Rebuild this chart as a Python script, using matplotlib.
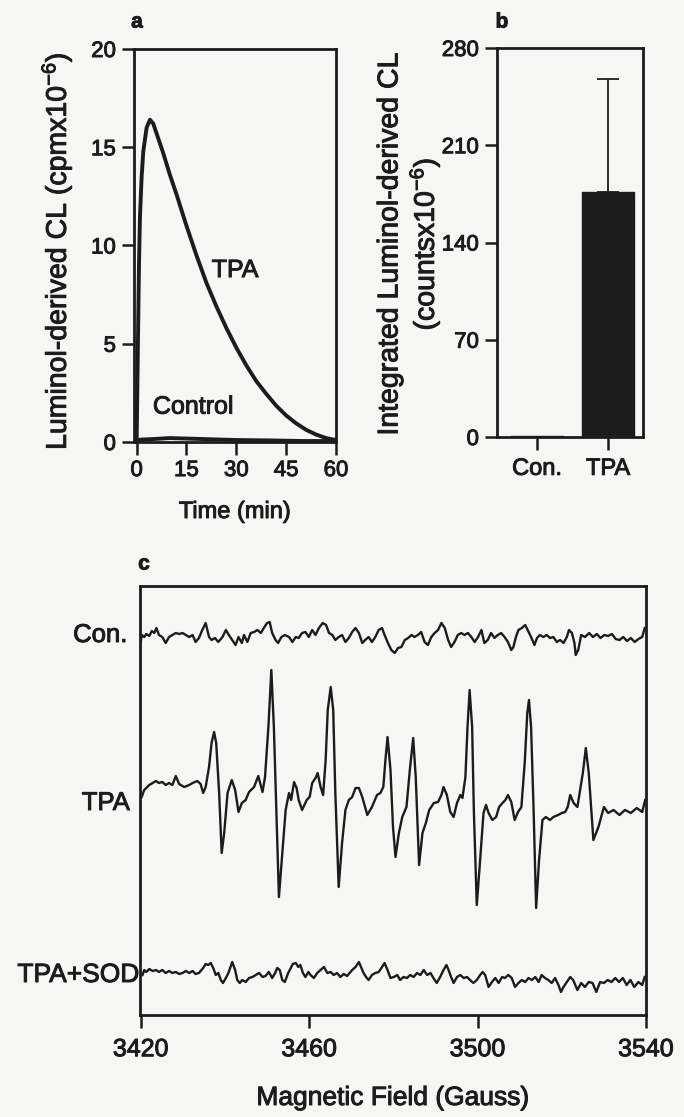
import matplotlib
matplotlib.use("Agg")
import matplotlib.pyplot as plt
import matplotlib.patheffects as pe

plt.rcParams["font.family"] = ["Liberation Sans", "DejaVu Sans"]
plt.rcParams["mathtext.default"] = "regular"

INK = "#1c1c1c"
PAPER = "#f6f6f4"
HEAVY = [pe.withStroke(linewidth=0.7, foreground=INK)]

# panel a: luminol-derived chemiluminescence (cpm x 10^-6)
time_min = [0, 0.3, 0.7, 1, 1.5, 2, 3, 4, 5, 6, 8, 10, 12, 15, 18, 21, 24,
            27, 30, 33, 36, 39, 42, 45, 48, 51, 54, 57, 60]
tpa_cl = [0, 4.0, 9.0, 11.5, 13.5, 14.8, 16.0, 16.4, 16.2, 15.7, 14.7, 13.6,
          12.6, 11.0, 9.5, 8.1, 6.9, 5.8, 4.8, 3.9, 3.1, 2.45, 1.85, 1.35,
          0.95, 0.62, 0.38, 0.2, 0.1]
control_time = [0, 1, 5, 10, 20, 30, 40, 50, 60]
control_cl = [0, 0.12, 0.15, 0.2, 0.15, 0.1, 0.08, 0.05, 0.05]

# panel b: integrated CL (counts x 10^-6)
bar_groups = ["Con.", "TPA"]
bar_means = [1, 176]
bar_errors = [0, 82]

# panel c: EPR spectra, signal in arbitrary units
con_field = [3420.0, 3420.2, 3420.8, 3421.3, 3422.0, 3422.6, 3423.2, 3423.7,
             3424.3, 3425.1, 3425.9, 3426.7, 3427.5, 3428.3, 3429.1, 3429.9,
             3430.7, 3431.5, 3432.3, 3433.0, 3433.8, 3434.6, 3435.4, 3436.2,
             3436.8, 3437.6, 3438.4, 3439.4, 3440.2, 3440.9, 3441.7, 3442.5,
             3443.2, 3444.0, 3444.5, 3445.3, 3446.1, 3446.9, 3447.7, 3448.5,
             3449.2, 3450.0, 3450.6, 3451.2, 3452.0, 3452.6, 3453.4, 3454.2,
             3455.2, 3456.0, 3456.8, 3457.5, 3458.3, 3459.1, 3459.9, 3460.7,
             3461.5, 3462.3, 3463.2, 3464.0, 3464.7, 3465.5, 3466.2, 3467.0,
             3467.8, 3468.6, 3469.4, 3470.2, 3471.0, 3471.8, 3472.6, 3473.3,
             3474.1, 3474.9, 3475.7, 3476.5, 3477.3, 3477.9, 3478.7, 3479.5,
             3480.3, 3481.1, 3481.9, 3482.7, 3483.5, 3484.3, 3485.0, 3485.8,
             3486.6, 3487.4, 3488.2, 3489.0, 3489.8, 3490.6, 3491.4, 3492.2,
             3493.0, 3493.7, 3494.5, 3495.3, 3496.1, 3496.9, 3497.7, 3498.5,
             3499.3, 3500.1, 3500.9, 3501.6, 3502.4, 3503.2, 3504.0, 3504.8,
             3505.6, 3506.4, 3507.2, 3508.0, 3508.5, 3509.1, 3509.7, 3510.5,
             3511.3, 3511.9, 3512.7, 3513.5, 3514.1, 3514.8, 3515.6, 3516.4,
             3517.2, 3518.0, 3518.8, 3519.6, 3520.4, 3521.2, 3521.7, 3522.4,
             3523.0, 3523.3, 3523.9, 3524.6, 3525.5, 3526.5, 3527.4, 3528.3,
             3529.2, 3530.1, 3531.0, 3531.9, 3532.8, 3533.7, 3534.6, 3535.5,
             3536.4, 3537.3, 3538.2, 3539.1, 3539.7]
con_signal = [-7, 0, -2, 1, -1, 4, 2, 7, 0, -2, -8, -2, 0, 2, 1, 2,
              0, -2, 0, -7, -3, 5, 12, -2, -5, -3, -7, -2, 5, 0, -5, -10,
              -2, -8, 0, -7, 2, 3, 5, 2, 7, 12, 13, 2, -5, -8, -2, 0,
              -2, -7, -2, -3, 2, 3, -2, 5, 0, 7, 12, 10, 2, 0, -5, -2,
              0, -7, -3, 3, 7, 2, -8, -5, -2, -7, -2, 5, 7, 0, -8, -15,
              -18, -13, -12, -5, -3, 0, -2, 0, 3, -7, -10, -2, 2, 5, 12, 7,
              -5, -12, -7, 0, 2, 0, 2, -2, -7, -2, 5, -8, -5, 2, -3, 0,
              2, -2, -7, -15, -12, -2, 5, 7, 10, 5, -2, -10, -3, 0, -2, 0,
              -3, -2, -7, -5, -8, -2, 5, 2, -8, -20, -15, 0, -2, 2, -2, 1,
              -3, 0, -1, 1, -4, -5, -2, -6, -3, -7, -4, -2, 7]

tpa_field = [3420.2, 3420.8, 3422.0, 3423.6, 3424.3, 3425.1, 3425.9, 3426.7,
             3427.5, 3428.3, 3429.1, 3430.3, 3431.5, 3432.3, 3433.4, 3434.2,
             3434.8, 3435.4, 3436.2, 3436.8, 3437.4, 3437.9, 3438.6, 3439.2,
             3439.8, 3440.6, 3441.6, 3442.4, 3443.2, 3444.0, 3444.9, 3445.7,
             3446.9, 3447.9, 3448.9, 3449.5, 3450.3, 3451.0, 3451.6, 3452.3,
             3452.8, 3453.6, 3454.4, 3455.2, 3455.7, 3456.4, 3457.0, 3457.5,
             3458.3, 3459.4, 3460.1, 3460.7, 3461.5, 3462.0, 3462.7, 3463.3,
             3463.9, 3464.4, 3465.1, 3465.7, 3466.2, 3467.0, 3467.8, 3468.6,
             3469.4, 3470.2, 3471.0, 3471.8, 3472.6, 3473.8, 3474.9, 3476.1,
             3476.9, 3477.6, 3478.1, 3478.6, 3479.3, 3479.9, 3480.5, 3481.3,
             3482.1, 3483.1, 3483.9, 3484.7, 3485.3, 3486.1, 3486.9, 3487.7,
             3488.5, 3489.6, 3490.6, 3491.4, 3491.9, 3492.7, 3493.5, 3494.3,
             3495.1, 3495.9, 3496.4, 3497.1, 3497.6, 3498.1, 3498.7, 3499.1,
             3499.8, 3500.6, 3501.4, 3502.0, 3502.6, 3503.5, 3504.4, 3505.1,
             3505.9, 3506.6, 3507.2, 3508.0, 3508.8, 3509.6, 3510.4, 3511.2,
             3511.8, 3512.2, 3512.7, 3513.3, 3513.9, 3514.6, 3515.4, 3516.2,
             3517.2, 3518.0, 3519.1, 3520.0, 3520.8, 3521.4, 3522.0, 3522.8,
             3523.7, 3525.0, 3525.7, 3526.4, 3527.5, 3528.7, 3530.0, 3531.0,
             3532.3, 3533.7, 3535.0, 3536.4, 3537.8, 3539.1, 3539.8]
tpa_signal = [-12, -5, 0, 4, 2, 3, 0, 2,
              0, 9, 1, -2, 0, 2, 4, 1,
              -8, -2, 18, 42, 53, 42, -8, -68,
              -48, -8, 5, -5, -27, -18, -15, -7,
              -2, 9, -7, 8, 58, 115, 58, -42,
              -112, -68, -25, -8, -15, 3, -3, -15,
              -25, -15, -12, 2, 7, 12, -2, -10,
              25, 75, 98, 75, -8, -102, -58, -25,
              -15, -12, -3, -3, -12, -30, -22, -10,
              -8, -2, 25, 48, 15, -42, -72, -48,
              -32, -22, 15, 47, 8, -80, -48, -38,
              -25, -18, -17, -10, -2, -10, -27, -32,
              -18, -10, -13, 8, 58, 95, 58, -25,
              -120, -75, -28, -20, -28, -35, -32, -22,
              -18, -15, -10, -17, -35, -27, -22, 23,
              72, 85, 58, -25, -123, -75, -35, -32,
              -35, -32, -30, -28, -27, -22, -10, -18,
              -22, 12, 37, 12, -55, -42, -22, -28,
              -25, -30, -25, -28, -23, -27, -15]

sod_field = [3420.4, 3420.8, 3421.3, 3422.0, 3422.8, 3423.6, 3424.3, 3425.1,
             3425.9, 3426.7, 3427.5, 3428.3, 3429.1, 3429.9, 3430.7, 3431.5,
             3432.3, 3433.0, 3433.8, 3434.8, 3435.4, 3436.0, 3436.6, 3437.2,
             3437.8, 3438.4, 3439.0, 3439.5, 3440.2, 3440.8, 3441.3, 3441.7,
             3442.4, 3442.9, 3443.5, 3444.1, 3444.9, 3445.7, 3446.5, 3447.3,
             3448.1, 3448.9, 3449.6, 3450.4, 3451.2, 3451.9, 3452.4, 3453.0,
             3453.6, 3454.2, 3455.0, 3455.6, 3456.1, 3456.8, 3457.4, 3457.9,
             3458.5, 3459.1, 3459.8, 3460.3, 3461.1, 3461.9, 3462.7, 3463.5,
             3464.3, 3465.1, 3465.8, 3466.6, 3467.4, 3468.2, 3469.0, 3469.6,
             3470.2, 3471.0, 3471.8, 3472.4, 3472.9, 3473.5, 3474.1, 3474.9,
             3475.7, 3476.5, 3477.3, 3477.9, 3478.6, 3479.3, 3480.1, 3480.9,
             3481.6, 3482.4, 3483.2, 3484.0, 3484.8, 3485.6, 3486.4, 3487.2,
             3488.0, 3488.8, 3489.5, 3490.3, 3491.1, 3491.9, 3492.6, 3493.1,
             3493.7, 3494.3, 3495.1, 3495.9, 3496.7, 3497.5, 3498.2, 3499.0,
             3499.8, 3500.6, 3501.2, 3501.8, 3502.6, 3503.4, 3504.2, 3505.0,
             3505.8, 3506.5, 3507.3, 3508.1, 3508.9, 3509.7, 3510.5, 3511.3,
             3512.1, 3512.9, 3513.7, 3514.5, 3515.2, 3516.0, 3516.8, 3517.6,
             3518.4, 3519.2, 3519.8, 3520.4, 3521.2, 3522.0, 3522.7, 3523.7,
             3524.6, 3525.5, 3526.4, 3527.3, 3528.2, 3529.1, 3530.0, 3530.9,
             3531.8, 3532.7, 3533.6, 3534.5, 3535.4, 3536.3, 3537.2, 3538.2,
             3539.1, 3539.7]
sod_signal = [0, 5, 3, 6, 4, 5, 3, 5,
              2, 4, 2, 3, 1, 2, 4, 2,
              4, 1, 2, 7, 11, 10, 12, 7,
              0, 2, -5, -8, -3, 2, 8, 13,
              5, -5, -8, -5, -7, -3, -2, 0,
              2, -2, -1, 3, -3, 2, 7, 5,
              -5, -7, 2, 7, 11, 12, 8, 10,
              2, -2, 3, 0, -3, 2, 5, 8,
              2, 3, 0, 2, -2, 1, -1, 2,
              5, 8, 13, 7, 2, -2, -5, 0,
              2, 3, 8, 12, 5, -3, -2, 0,
              -5, -2, -3, 0, -2, 2, 0, 5,
              0, 2, -3, -8, -2, 5, 10, 5,
              -2, -8, -2, 0, -3, -2, -5, -8,
              -5, 0, 3, 0, -12, -7, -3, -8,
              -2, -3, 0, -3, -12, -8, -5, -7,
              -3, -5, -2, -7, 0, -3, -5, -8,
              -3, -10, -17, -12, -7, -2, -5, -15,
              -8, -12, -7, -8, -17, -7, -8, -5,
              -7, -3, -7, -3, -10, -5, -12, -7,
              -10, -2]

W, H = 684, 1117


def box(left, top, right, bottom):
    return [left / W, 1 - bottom / H, (right - left) / W, (bottom - top) / H]


def style_axes(ax, labelsize):
    for side in ax.spines.values():
        side.set_linewidth(2.0)
        side.set_color(INK)
    ax.set_facecolor("none")
    ax.tick_params(direction="out", length=9, width=1.8, color=INK,
                   labelsize=labelsize, labelcolor=INK, pad=4)


def label(x, y, s, **kw):
    kw.setdefault("ha", "center")
    kw.setdefault("va", "center")
    kw.setdefault("color", INK)
    return fig.text(x / W, 1 - y / H, s, path_effects=HEAVY, **kw)


fig = plt.figure(figsize=(W / 100, H / 100), dpi=100, facecolor=PAPER)

# ---- panel a ----
ax_a = fig.add_axes(box(134, 49, 336, 442))
ax_a.plot(time_min, tpa_cl, color=INK, lw=2.8, solid_joinstyle="round")
ax_a.plot(control_time, control_cl, color=INK, lw=2.8)
ax_a.set_xlim(-0.8, 60)
ax_a.set_ylim(0, 20)
ax_a.set_xticks([0, 15, 30, 45, 60])
ax_a.set_yticks([0, 5, 10, 15, 20])
style_axes(ax_a, 16)
ax_a.text(29.6, 8.75, "TPA", fontsize=18, color=INK, ha="center",
          va="center", path_effects=HEAVY)
ax_a.text(17, 1.8, "Control", fontsize=18, color=INK, ha="center",
          va="center", path_effects=HEAVY)
label(57, 251, "Luminol-derived CL (cpmx10$^{-6}$)", rotation=90,
      fontsize=20.5)
label(235, 512, "Time (min)", fontsize=17)
label(137, 22, "a", fontsize=15, fontweight="bold")

# ---- panel b ----
ax_b = fig.add_axes(box(497, 48, 643, 437))
pos = list(range(len(bar_groups)))
ax_b.bar(pos, bar_means, width=0.72, color=INK, edgecolor=INK)
ax_b.errorbar(pos[1:], bar_means[1:], yerr=[[0], bar_errors[1:]], fmt="none",
              ecolor=INK, elinewidth=1.3, capsize=8, capthick=1.3)
ax_b.set_xlim(-0.563, 1.493)
ax_b.set_ylim(0, 280)
ax_b.set_xticks(pos)
ax_b.set_xticklabels(bar_groups)
ax_b.set_yticks([0, 70, 140, 210, 280])
style_axes(ax_b, 16)
ax_b.tick_params(axis="x", labelsize=17, pad=6)
label(410, 244, "Integrated Luminol-derived CL\n(countsx10$^{-6}$)",
      rotation=90, fontsize=20.5, linespacing=1.15, multialignment="center")
label(502, 22, "b", fontsize=15, fontweight="bold")

# ---- panel c ----
ax_c = fig.add_axes(box(140, 586, 646, 1015))
offsets = {"Con.": 380, "TPA": 230, "TPA+SOD": 40}
traces = [("Con.", con_field, con_signal),
          ("TPA", tpa_field, tpa_signal),
          ("TPA+SOD", sod_field, sod_signal)]
for name, field, signal in traces:
    ax_c.plot(field, [offsets[name] + s for s in signal], color=INK, lw=1.7)
ax_c.set_xlim(3419.8, 3540)
ax_c.set_ylim(0, 429)
ax_c.set_xticks([3420, 3460, 3500, 3540])
ax_c.set_yticks([])
style_axes(ax_c, 18)
ax_c.tick_params(axis="x", pad=7)
for name, dx, dy, size in [("Con.", -0.025, 0, 18.5),
                           ("TPA", -0.02, -18, 18.5),
                           ("TPA+SOD", -0.002, 0, 19)]:
    ax_c.text(dx, (offsets[name] + dy) / 429, name, transform=ax_c.transAxes,
              ha="right", va="center", fontsize=size, color=INK,
              path_effects=HEAVY)
label(393, 1098, "Magnetic Field (Gauss)", fontsize=19)
label(144, 564, "c", fontsize=15, fontweight="bold")

for ax in (ax_a, ax_b, ax_c):
    for t in ax.get_xticklabels() + ax.get_yticklabels():
        t.set_path_effects(HEAVY)

fig.savefig("out.png", dpi=100, facecolor=PAPER)
